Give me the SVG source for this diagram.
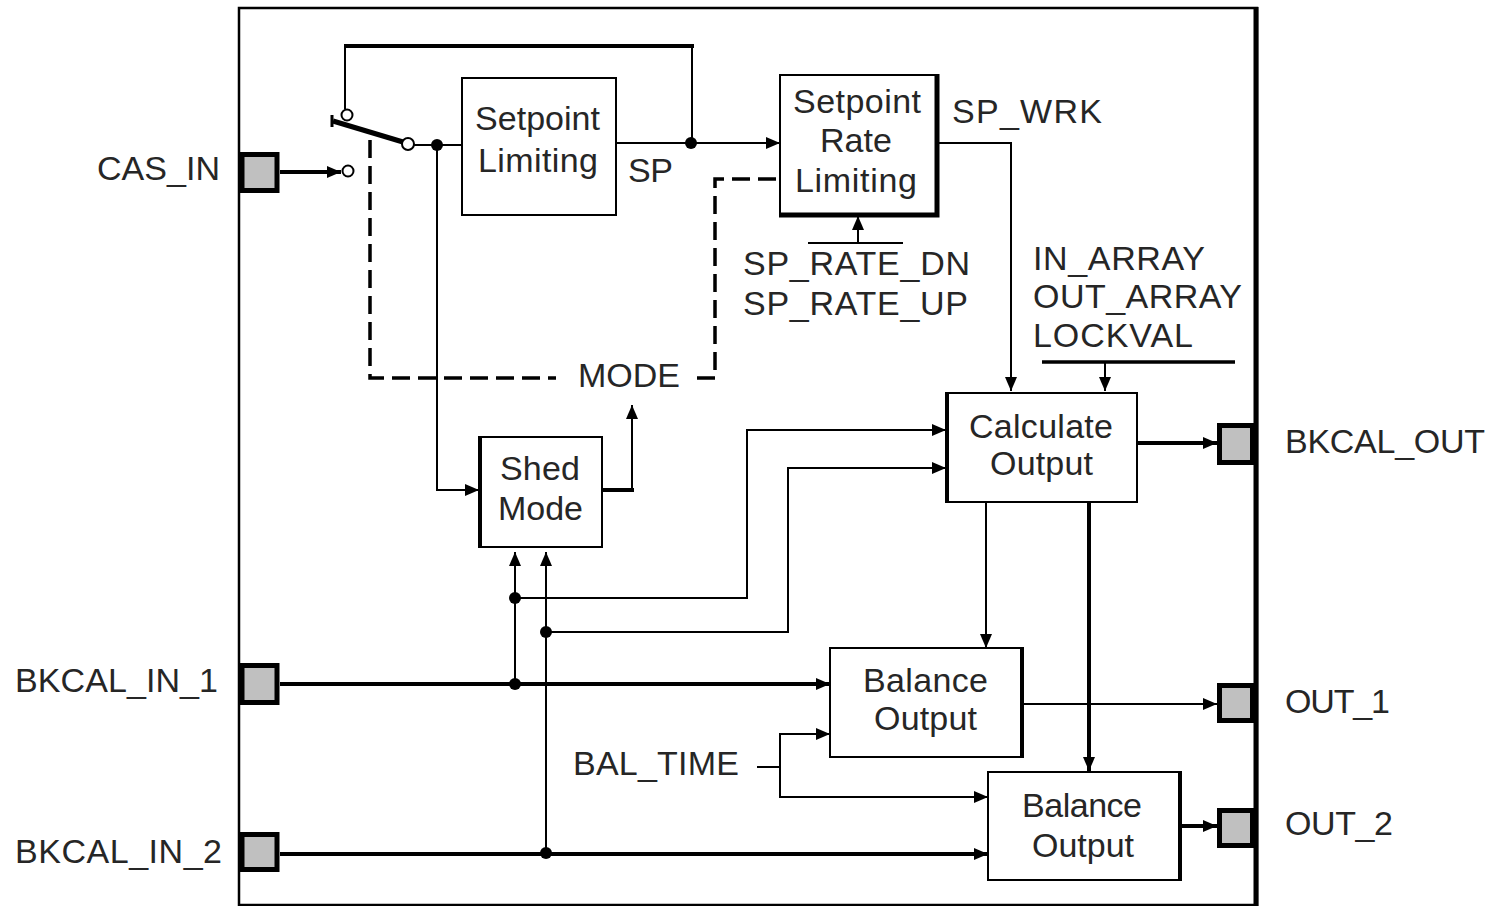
<svg xmlns="http://www.w3.org/2000/svg" width="1493" height="906" viewBox="0 0 1493 906">
<defs>
<style>
.ln{stroke:#000;stroke-width:2;fill:none}
.tk{stroke:#000;stroke-width:4;fill:none}
.ds{stroke:#000;stroke-width:3.5;fill:none;stroke-dasharray:18 8}
.box{fill:#fff;stroke:#000;stroke-width:2}
.port{fill:#c0c0c0;stroke:#000;stroke-width:5}
.dot{fill:#000}
.ring{fill:#fff;stroke:#000;stroke-width:2}
.t{font-family:"Liberation Sans",Arial,sans-serif;font-size:34px;fill:#262626}
</style>
<marker id="a" viewBox="0 0 14 12" refX="14" refY="6" markerWidth="14" markerHeight="12" markerUnits="userSpaceOnUse" orient="auto">
<path d="M0,0 L14,6 L0,12 Z" fill="#000"/>
</marker>
</defs>
<rect width="1493" height="906" fill="#fff"/>

<g id="frame">
<rect x="239" y="8" width="1018" height="897" fill="none" stroke="#000" stroke-width="2.5"/>
<line x1="1256" y1="7" x2="1256" y2="906" stroke="#000" stroke-width="5"/>
</g>

<g id="connectors">
<line class="tk" x1="280" y1="172" x2="341" y2="172" marker-end="url(#a)"/>
<path class="ln" d="M345,109 V45"/>
<line class="tk" x1="344" y1="46" x2="694" y2="46"/>
<path class="ln" d="M692,46 V143"/>
<line x1="333" y1="121" x2="403" y2="142" stroke="#000" stroke-width="5"/>
<line x1="332" y1="115" x2="332" y2="127" stroke="#000" stroke-width="3"/>
<line class="ln" x1="414" y1="145" x2="462" y2="145"/>
<path class="ln" d="M437,145 V490 H479" marker-end="url(#a)"/>
<line class="ln" x1="616" y1="143" x2="780" y2="143" marker-end="url(#a)"/>
<path class="ds" d="M370,140 V378 H556"/>
<path class="ds" d="M697,378 H715 V179 H780" stroke-dasharray="6 8 18 8"/>
<line class="tk" x1="602" y1="490" x2="634" y2="490"/>
<path class="ln" d="M632,490 V405" marker-end="url(#a)"/>
<line class="ln" x1="808" y1="243" x2="903" y2="243"/>
<line class="ln" x1="858" y1="243" x2="858" y2="216" marker-end="url(#a)"/>
<path class="ln" d="M938,143 H1011 V391" marker-end="url(#a)"/>
<line x1="1042" y1="362" x2="1235" y2="362" stroke="#000" stroke-width="3.5"/>
<line class="ln" x1="1105" y1="362" x2="1105" y2="391" marker-end="url(#a)"/>
<line class="tk" x1="1137" y1="443" x2="1217" y2="443" marker-end="url(#a)"/>
<line class="tk" x1="280" y1="684" x2="830" y2="684" marker-end="url(#a)"/>
<line class="ln" x1="515" y1="684" x2="515" y2="552" marker-end="url(#a)"/>
<path class="ln" d="M515,598 H747 V430 H946" marker-end="url(#a)"/>
<line class="tk" x1="280" y1="854" x2="988" y2="854" marker-end="url(#a)"/>
<line class="ln" x1="546" y1="854" x2="546" y2="552" marker-end="url(#a)"/>
<path class="ln" d="M546,632 H788 V468 H946" marker-end="url(#a)"/>
<line class="ln" x1="986" y1="502" x2="986" y2="648" marker-end="url(#a)"/>
<line class="tk" x1="1089" y1="502" x2="1089" y2="771" marker-end="url(#a)"/>
<line class="ln" x1="757" y1="767" x2="780" y2="767"/>
<path class="ln" d="M780,767 V734 H830" marker-end="url(#a)"/>
<path class="ln" d="M780,767 V797 H988" marker-end="url(#a)"/>
<line class="ln" x1="1023" y1="704" x2="1217" y2="704" marker-end="url(#a)"/>
<line class="tk" x1="1181" y1="826" x2="1217" y2="826" marker-end="url(#a)"/>
<circle class="dot" cx="437" cy="145" r="6"/>
<circle class="dot" cx="691" cy="143" r="6"/>
<circle class="dot" cx="515" cy="598" r="6"/>
<circle class="dot" cx="546" cy="632" r="6"/>
<circle class="dot" cx="515" cy="684" r="6"/>
<circle class="dot" cx="546" cy="853" r="6"/>
<circle class="ring" cx="347" cy="115" r="5.5"/>
<circle class="ring" cx="408" cy="144" r="6"/>
<circle class="ring" cx="348" cy="171" r="5.5"/>
</g>

<g id="port-cas-in">
<rect class="port" x="242" y="154.5" width="35" height="36"/>
<text class="t" x="97" y="180" textLength="123">CAS_IN</text>
</g>
<g id="port-bkcal-in-1">
<rect class="port" x="242" y="665.5" width="35" height="37"/>
<text class="t" x="15" y="692" textLength="203">BKCAL_IN_1</text>
</g>
<g id="port-bkcal-in-2">
<rect class="port" x="242" y="834.5" width="35" height="35"/>
<text class="t" x="15" y="863" textLength="207">BKCAL_IN_2</text>
</g>
<g id="port-bkcal-out">
<rect class="port" x="1219.5" y="425.5" width="33" height="37"/>
<text class="t" x="1285" y="453" textLength="200">BKCAL_OUT</text>
</g>
<g id="port-out-1">
<rect class="port" x="1219.5" y="685.5" width="33" height="35"/>
<text class="t" x="1285" y="713" textLength="105">OUT_1</text>
</g>
<g id="port-out-2">
<rect class="port" x="1219.5" y="810.5" width="33" height="35"/>
<text class="t" x="1285" y="835" textLength="108">OUT_2</text>
</g>

<g id="setpoint-limiting">
<rect class="box" x="462" y="78" width="154" height="137"/>
<text class="t" x="475" y="130" textLength="125">Setpoint</text>
<text class="t" x="478" y="172" textLength="120">Limiting</text>
</g>
<text class="t" x="628" y="182" textLength="45">SP</text>

<g id="setpoint-rate-limiting">
<rect class="box" x="780" y="75" width="157" height="139" stroke-width="3"/>
<path d="M937,74 V215 H779" fill="none" stroke="#000" stroke-width="5"/>
<text class="t" x="793" y="113" textLength="128">Setpoint</text>
<text class="t" x="820" y="152" textLength="72">Rate</text>
<text class="t" x="795" y="192" textLength="122">Limiting</text>
</g>
<text class="t" x="952" y="123" textLength="150">SP_WRK</text>
<text class="t" x="743" y="275" textLength="227">SP_RATE_DN</text>
<text class="t" x="743" y="315" textLength="225">SP_RATE_UP</text>
<text class="t" x="1033" y="270" textLength="172">IN_ARRAY</text>
<text class="t" x="1033" y="308" textLength="209">OUT_ARRAY</text>
<text class="t" x="1033" y="347" textLength="160">LOCKVAL</text>
<text class="t" x="578" y="387" textLength="102">MODE</text>

<g id="shed-mode">
<rect class="box" x="479" y="437" width="123" height="110"/>
<line x1="480" y1="436" x2="480" y2="548" stroke="#000" stroke-width="4"/>
<text class="t" x="500" y="480" textLength="80">Shed</text>
<text class="t" x="498" y="520" textLength="85">Mode</text>
</g>

<g id="calculate-output">
<rect class="box" x="946" y="393" width="191" height="109"/>
<line x1="947" y1="392" x2="947" y2="503" stroke="#000" stroke-width="4"/>
<text class="t" x="969" y="438" textLength="144">Calculate</text>
<text class="t" x="990" y="475" textLength="103">Output</text>
</g>

<g id="balance-output-1">
<rect class="box" x="830" y="648" width="192" height="109"/>
<line x1="1022" y1="647" x2="1022" y2="758" stroke="#000" stroke-width="4"/>
<text class="t" x="863" y="692" textLength="125">Balance</text>
<text class="t" x="874" y="730" textLength="103">Output</text>
</g>

<g id="balance-output-2">
<rect class="box" x="988" y="772" width="192" height="108"/>
<line x1="1180" y1="771" x2="1180" y2="881" stroke="#000" stroke-width="4"/>
<text class="t" x="1022" y="817" textLength="120">Balance</text>
<text class="t" x="1032" y="857" textLength="102">Output</text>
</g>

<text class="t" x="573" y="775" textLength="166">BAL_TIME</text>
</svg>
